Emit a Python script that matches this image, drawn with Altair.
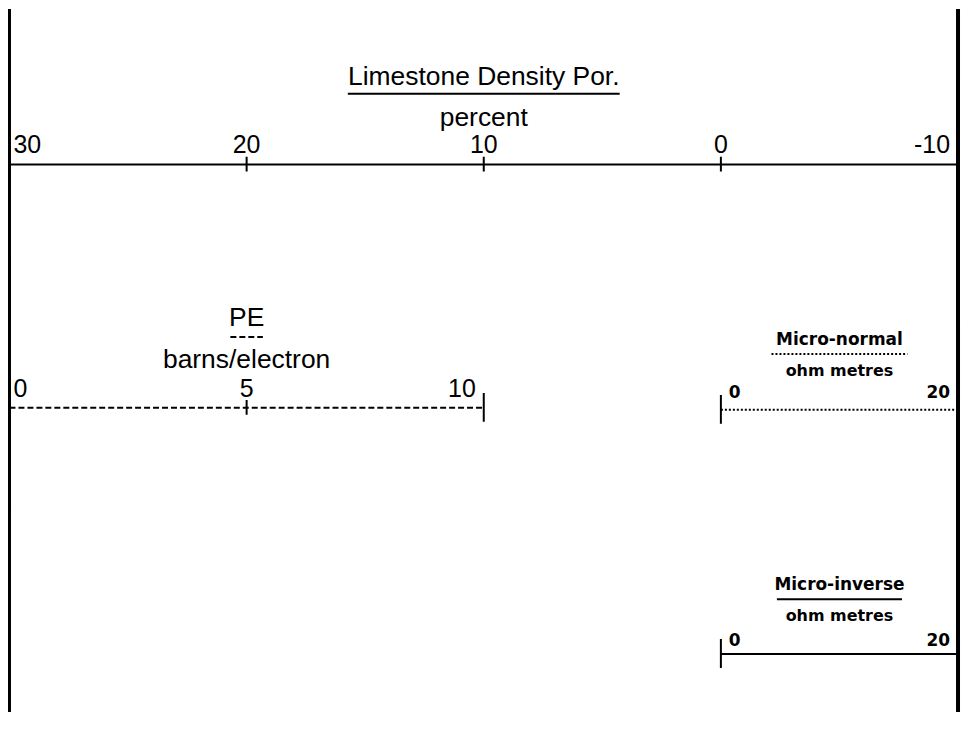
import altair as alt
import pandas as pd

# ---------------- data (scale headers) ----------------
density_title = "Limestone Density Por."
density_units = "percent"
density_range = [30, -10]
density_ticks = [30, 20, 10, 0, -10]

pe_title = "PE"
pe_units = "barns/electron"
pe_range = [0, 10]
pe_ticks = [0, 5, 10]

mn_title = "Micro-normal"
mn_units = "ohm metres"
mn_range = [0, 20]
mn_ticks = [0, 20]

mi_title = "Micro-inverse"
mi_units = "ohm metres"
mi_range = [0, 20]
mi_ticks = [0, 20]

# ---------------- layout (track fractions, reference pixel rows) ----------------
TRACK_PX = 963.0
Y_TOP, Y_BOTTOM = 8, 713
W, H = 958, 705
X_RANGE = [1.5, 953]

layout = [
    dict(title=density_title, units=density_units, rng=density_range, ticks=density_ticks,
         f0=0.0, f1=1.0, line_y=164, num_y=152, unit_y=125, title_y=84, ul_y=93, ul_half=138,
         dash="solid", lw=2, font="big"),
    dict(title=pe_title, units=pe_units, rng=pe_range, ticks=pe_ticks,
         f0=0.0, f1=0.5, line_y=408, num_y=397, unit_y=368, title_y=326, ul_y=337, ul_half=16.5,
         dash="dashed", lw=2, font="big"),
    dict(title=mn_title, units=mn_units, rng=mn_range, ticks=mn_ticks,
         f0=0.75, f1=1.0, line_y=410, num_y=398, unit_y=376, title_y=345, ul_y=354, ul_half=69,
         dash="dotted", lw=2, font="small"),
    dict(title=mi_title, units=mi_units, rng=mi_range, ticks=mi_ticks,
         f0=0.75, f1=1.0, line_y=655, num_y=647, unit_y=622, title_y=591, ul_y=600, ul_half=63.5,
         dash="solid", lw=2, font="small"),
]

FONT_SIZES = {"big": (26.5, 26.5, 25), "small": (17, 16, 17)}  # (title, units, numbers)

segs = []
texts = []

# track borders
segs.append(dict(x=0.0, x2=0.0, y=Y_TOP, y2=Y_BOTTOM, dash="solid", sw=3))
segs.append(dict(x=1.0, x2=1.0, y=Y_TOP, y2=Y_BOTTOM, dash="solid", sw=4))

for s in layout:
    v0, v1 = s["rng"]
    f0, f1 = s["f0"], s["f1"]

    def pos(v, v0=v0, v1=v1, f0=f0, f1=f1):
        return f0 + (v - v0) / (v1 - v0) * (f1 - f0)

    ly = s["line_y"]
    segs.append(dict(x=f0, x2=f1, y=ly, y2=ly, dash=s["dash"], sw=s["lw"]))
    mid = (f0 + f1) / 2
    half = s["ul_half"] / TRACK_PX
    segs.append(dict(x=mid - half, x2=mid + half, y=s["ul_y"], y2=s["ul_y"],
                     dash=s["dash"], sw=2))
    tsize, usize, nsize = FONT_SIZES[s["font"]]
    texts.append(dict(x=mid, y=s["title_y"], text=s["title"], size=tsize, font=s["font"],
                      align="center", edge=False))
    texts.append(dict(x=mid, y=s["unit_y"], text=s["units"], size=usize, font=s["font"],
                      align="center", edge=False))
    for i, v in enumerate(s["ticks"]):
        p = pos(v)
        if i == 0:
            al = "left"
        elif i == len(s["ticks"]) - 1:
            al = "right"
        else:
            al = "center"
        at_border = p <= 0.0 or p >= 1.0
        texts.append(dict(x=p, y=s["num_y"], text=str(v), size=nsize, font=s["font"],
                          align=al, edge=bool(at_border and al == "left")))
        if al == "center":
            segs.append(dict(x=p, x2=p, y=ly - 8, y2=ly + 7, dash="solid", sw=2))
        elif not at_border:
            segs.append(dict(x=p, x2=p, y=ly - 15, y2=ly + 14, dash="solid", sw=2))

seg_df = pd.DataFrame(segs)
txt_df = pd.DataFrame(texts)

xs = alt.Scale(domain=[0, 1], range=X_RANGE, nice=False, zero=False)
ys = alt.Scale(domain=[Y_TOP, Y_BOTTOM], range=[0, H], nice=False, zero=False)

rules = alt.Chart(seg_df).mark_rule(color="black", strokeCap="butt").encode(
    x=alt.X("x:Q", scale=xs, axis=None),
    x2="x2:Q",
    y=alt.Y("y:Q", scale=ys, axis=None),
    y2="y2:Q",
    strokeDash=alt.StrokeDash("dash:N", scale=alt.Scale(domain=["solid", "dashed", "dotted"],
                                                         range=[[1, 0], [6, 3], [2, 2]]), legend=None),
    strokeWidth=alt.StrokeWidth("sw:Q", scale=None),
)

layers = [rules]
fonts = {"big": "Liberation Sans", "small": "DejaVu Sans"}
for fk in ["big", "small"]:
    for al, edge, dx in [("left", True, 4), ("left", False, 8), ("center", False, 0), ("right", False, -8)]:
        sub = txt_df[(txt_df["font"] == fk) & (txt_df["align"] == al) & (txt_df["edge"] == edge)]
        if len(sub) == 0:
            continue
        layers.append(
            alt.Chart(sub).mark_text(
                font=fonts[fk], fontWeight="bold" if fk == "small" else "normal",
                align=al, baseline="alphabetic", dx=dx, color="black",
            ).encode(
                x=alt.X("x:Q", scale=xs, axis=None),
                y=alt.Y("y:Q", scale=ys, axis=None),
                text="text:N",
                size=alt.Size("size:Q", scale=None),
            )
        )

chart = alt.layer(*layers).properties(
    width=W, height=H, padding=0, autosize=alt.AutoSizeParams(type="none"), background="white"
).configure_view(stroke=None)

chart.save("out.html", embed_options={"renderer": "svg", "actions": False})
